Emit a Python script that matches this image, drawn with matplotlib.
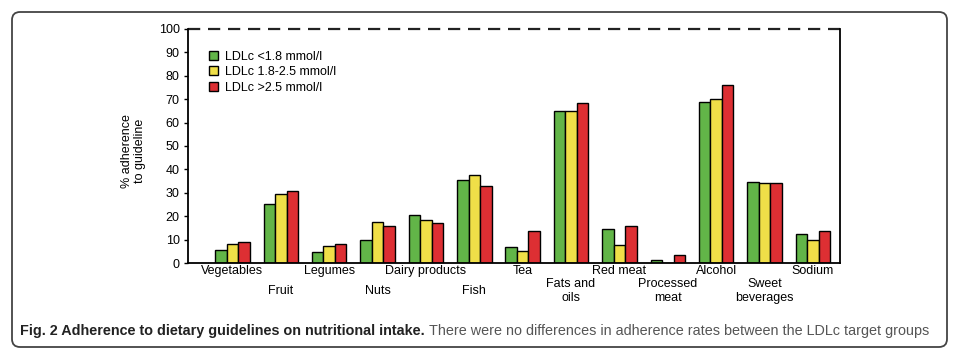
import matplotlib
matplotlib.use("Agg")
import matplotlib.pyplot as plt
import numpy as np
from matplotlib.patches import FancyBboxPatch

# --- data ---
categories = ["Vegetables", "Fruit", "Legumes", "Nuts", "Dairy products", "Fish", "Tea",
              "Fats and\noils", "Red meat", "Processed\nmeat", "Alcohol", "Sweet\nbeverages", "Sodium"]
ldl_low = [5.5, 25.0, 4.8, 10.0, 20.6, 35.3, 6.7, 64.9, 14.7, 1.4, 68.7, 34.6, 12.5]
ldl_mid = [8.1, 29.4, 7.3, 17.6, 18.3, 37.7, 5.3, 65.1, 7.8, 0.0, 70.0, 34.0, 9.8]
ldl_high = [9.0, 30.7, 8.0, 15.9, 16.9, 33.0, 13.5, 68.3, 15.9, 3.3, 76.2, 34.0, 13.5]
series_labels = ["LDLc <1.8 mmol/l", "LDLc 1.8-2.5 mmol/l", "LDLc >2.5 mmol/l"]
colors = ["#62b548", "#f0df48", "#dd2f33"]

plt.rcParams['font.family'] = ['Liberation Sans', 'DejaVu Sans']

fig = plt.figure(figsize=(9.6, 3.57), dpi=100)
ax = fig.add_axes([0.1958, 0.2633, 0.6792, 0.6555])

x = np.arange(len(categories))
w = 0.238
for j, vals in enumerate([ldl_low, ldl_mid, ldl_high]):
    ax.bar(x + (j - 1) * w, vals, width=w, color=colors[j], edgecolor="black",
           linewidth=1.0, label=series_labels[j])

ax.set_xlim(-0.92, 12.56)
ax.set_ylim(0, 100)
ax.set_yticks(range(0, 101, 10))
ax.tick_params(axis="y", labelsize=9, length=3, width=1, pad=3)
ax.set_xticks([])

for side in ["left", "right", "bottom"]:
    ax.spines[side].set_linewidth(1.3)
ax.spines["top"].set_visible(False)
ax.axhline(100, color="#222222", lw=1.6, dashes=(5.5, 3.5), clip_on=False)

# alternating category labels
for i, lab in enumerate(categories):
    off = -8 if i % 2 == 0 else -28
    ax.annotate(lab, xy=(i, 0), xycoords=("data", "axes fraction"),
                xytext=(0, off * 0.72), textcoords="offset points",
                ha="center", va="center", fontsize=9, linespacing=1.25)

ax.text(-0.084, 0.48, "% adherence\nto guideline", transform=ax.transAxes,
        rotation=90, ha="center", va="center", fontsize=9, linespacing=1.1)

ax.legend(loc="upper left", bbox_to_anchor=(0.02, 0.94), frameon=False, fontsize=9,
          handlelength=0.75, handleheight=0.75, handletextpad=0.6, labelspacing=0.3,
          borderaxespad=0.2)

# caption
t1 = fig.text(0.021, 0.073, "Fig. 2 Adherence to dietary guidelines on nutritional intake.",
              fontsize=10.4, fontweight="bold", color="#222222", va="center")
fig.canvas.draw()
bb = t1.get_window_extent()
fig.text(bb.x1 / fig.bbox.width + 0.004, 0.073,
         "There were no differences in adherence rates between the LDLc target groups",
         fontsize=10.4, color="#555555", va="center")

# rounded frame around the figure
frame = FancyBboxPatch((0.12, 0.10), 9.35, 3.35, boxstyle="round,pad=0,rounding_size=0.08",
                       transform=fig.dpi_scale_trans, facecolor="none",
                       edgecolor="#444444", lw=1.3)
fig.patches.append(frame)

fig.savefig("out.png", dpi=100)
